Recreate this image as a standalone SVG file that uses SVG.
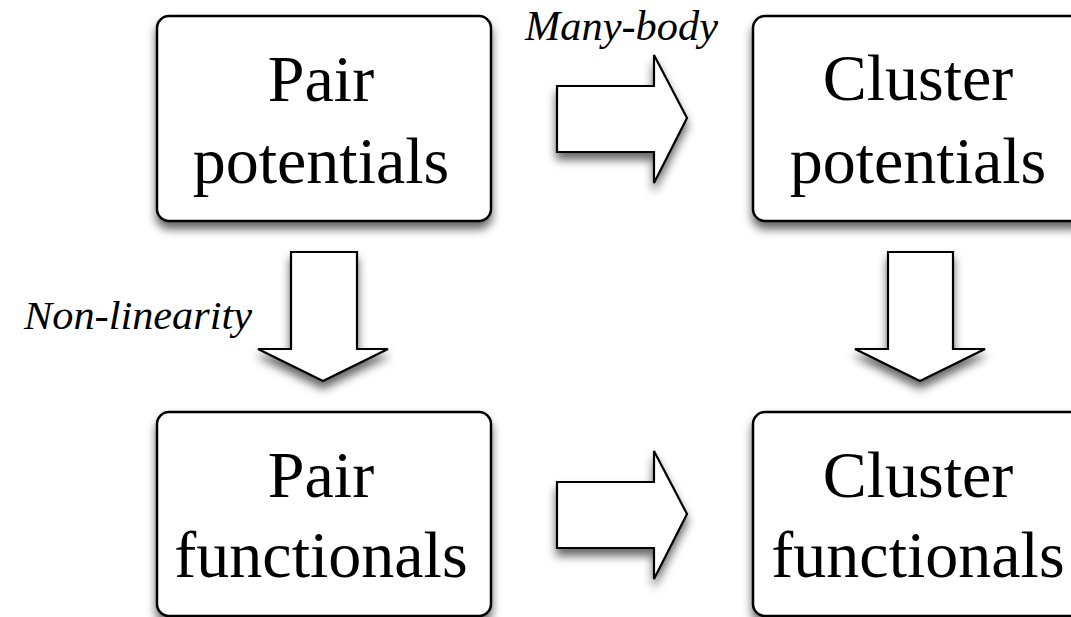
<svg xmlns="http://www.w3.org/2000/svg" width="1071" height="617" viewBox="0 0 1071 617">
<style>
.box{fill:#fff;stroke:#000;stroke-width:2.5}
.arr{fill:#fff;stroke:#000;stroke-width:2.2;stroke-linejoin:miter}
.t{font-family:"Liberation Serif","Times New Roman",serif;font-size:66px;fill:#000;text-anchor:middle}
.lab{font-family:"Liberation Serif","Times New Roman",serif;font-style:italic;fill:#000}
</style>
<defs>
<filter id="sh" x="-20%" y="-20%" width="140%" height="150%">
<feDropShadow dx="0" dy="7" stdDeviation="5" flood-color="#000" flood-opacity="0.6"/>
</filter>
</defs>
<rect width="1071" height="617" fill="#fff"/>
<g id="connectors">
<path class="arr" filter="url(#sh)" d="M557,86 H654 V55 L687,118 L654,183 V152 H557 Z"/>
<path class="arr" filter="url(#sh)" d="M557,482 H654 V451 L687,514 L654,579 V548 H557 Z"/>
<path class="arr" filter="url(#sh)" d="M291,252 H357 V349 H388 L323,381 L258,349 H291 Z"/>
<path class="arr" filter="url(#sh)" d="M888,252 H953 V349 H985 L920,381 L855,349 H888 Z"/>
<text class="lab" x="525" y="40" font-size="42" textLength="193" lengthAdjust="spacingAndGlyphs">Many-body</text>
<text class="lab" x="24" y="329" font-size="40" textLength="228" lengthAdjust="spacingAndGlyphs">Non-linearity</text>
</g>
<g id="pair-potentials">
<rect class="box" filter="url(#sh)" x="157" y="16" width="334" height="205" rx="12"/>
<text class="t" x="321" y="101">Pair</text>
<text class="t" x="321" y="183">potentials</text>
</g>
<g id="cluster-potentials">
<rect class="box" filter="url(#sh)" x="753" y="16" width="334" height="205" rx="12"/>
<text class="t" x="918" y="100">Cluster</text>
<text class="t" x="918" y="183">potentials</text>
</g>
<g id="pair-functionals">
<rect class="box" filter="url(#sh)" x="157" y="412" width="334" height="204" rx="12"/>
<text class="t" x="321" y="497">Pair</text>
<text class="t" x="321" y="577">functionals</text>
</g>
<g id="cluster-functionals">
<rect class="box" filter="url(#sh)" x="753" y="412" width="334" height="204" rx="12"/>
<text class="t" x="918" y="497">Cluster</text>
<text class="t" x="918" y="577">functionals</text>
</g>
</svg>
